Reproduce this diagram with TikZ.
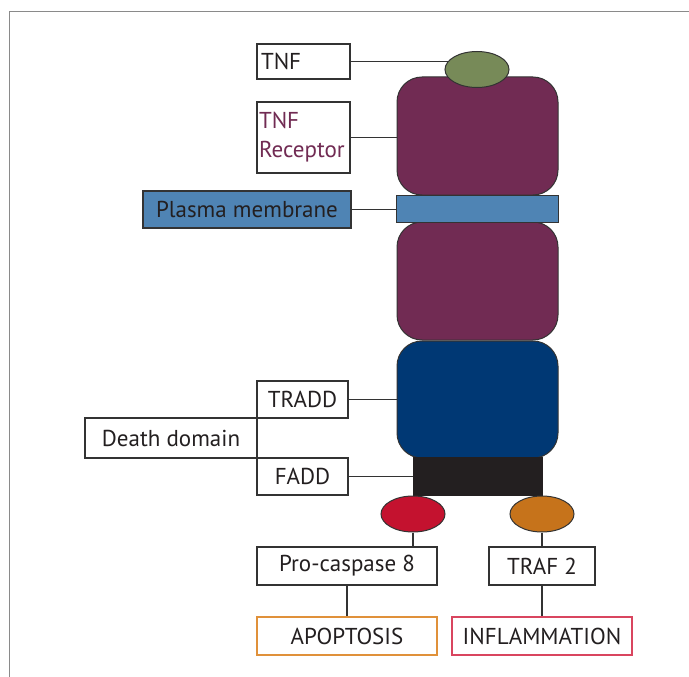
\documentclass[tikz,border=0pt]{standalone}
\usepackage{fontspec}
\setmainfont{PT Sans}
\usetikzlibrary{shapes.geometric,backgrounds}
\definecolor{txt}{HTML}{231F20}
\definecolor{edge}{HTML}{333333}
\definecolor{frame}{HTML}{8A8A8A}
\definecolor{tnfgreen}{HTML}{778A58}
\definecolor{recpurple}{HTML}{712B53}
\definecolor{memblue}{HTML}{4F84B4}
\definecolor{dkblue}{HTML}{003874}
\definecolor{faddblack}{HTML}{231F20}
\definecolor{caspred}{HTML}{C4122F}
\definecolor{traforange}{HTML}{C6731B}
\definecolor{apoporange}{HTML}{E0913A}
\definecolor{inflred}{HTML}{D9455F}
\tikzset{
  lbl/.style={draw=edge, line width=1.1pt, fill=white, inner sep=0pt, font=\fontsize{23}{27}\selectfont, text=txt},
  part/.style={draw=edge, line width=1pt, inner sep=0pt},
  blob/.style={ellipse, draw=edge, line width=1pt, inner sep=0pt, minimum width=64pt, minimum height=36pt},
  link/.style={draw=edge, line width=1.1pt},
}
\begin{document}
\begin{tikzpicture}[x=1pt,y=-1pt]
\useasboundingbox (0,0) rectangle (689,677);
% frame
\draw[frame, line width=1.6pt] (9.5,677) -- (9.5,11.5) -- (689,11.5);
% receptor parts
\node[part, fill=recpurple, rounded corners=25pt, minimum width=161pt, minimum height=118pt] (recup) at (477.5,136) {};
\node[part, fill=recpurple, rounded corners=25pt, minimum width=161pt, minimum height=118pt] (reclow) at (477.5,281) {};
\node[part, fill=memblue, minimum width=162pt, minimum height=27pt] (band) at (477,208.5) {};
\node[part, fill=dkblue, rounded corners=25pt, minimum width=161pt, minimum height=117pt] (tradddom) at (477.5,399.5) {};
\node[draw=faddblack, fill=faddblack, inner sep=0pt, minimum width=129pt, minimum height=38pt] (fadddom) at (477.5,476.5) {};
\node[blob, fill=tnfgreen] (tnf) at (477,69.5) {};
\node[blob, fill=caspred] (casp) at (413,514) {};
\node[blob, fill=traforange] (traf) at (542,514) {};
% labels
\node[lbl, minimum width=93pt, minimum height=35pt, text width=85pt, align=left] (tnfbox) at (303.5,61.5) {TNF};
\node[lbl, minimum width=93pt, minimum height=71pt, text width=89pt, align=left, text=recpurple, font=\fontsize{23}{29}\selectfont] (recbox) at (303.5,137.5) {TNF\\Receptor};
\node[lbl, fill=memblue, minimum width=208pt, minimum height=37pt] (pmbox) at (247,209.5) {Plasma membrane};
\node[lbl, minimum width=91pt, minimum height=37pt] (tradd) at (302.5,399.5) {TRADD};
\node[lbl, minimum width=172pt, minimum height=40pt] (death) at (171,438) {Death domain};
\node[lbl, minimum width=91pt, minimum height=37pt] (fadd) at (302.5,476.5) {FADD};
\node[lbl, minimum width=180pt, minimum height=38pt] (pcbox) at (347,566) {Pro-caspase 8};
\node[lbl, minimum width=106pt, minimum height=38pt] (trafbox) at (542,566) {TRAF 2};
\node[lbl, draw=apoporange, minimum width=180pt, minimum height=38pt] (apop) at (347,636) {APOPTOSIS};
\node[lbl, draw=inflred, minimum width=180pt, minimum height=38pt] (infl) at (542,636) {INFLAMMATION};
% connectors
\begin{scope}[on background layer]
\draw[link] (tnfbox.east) -- (tnfbox.east -| tnf.center);
\end{scope}
\draw[link] (recbox.east) -- (recbox.east -| recup.west);
\draw[link] (pmbox.east) -- (pmbox.east -| band.west);
\draw[link] (tradd.east) -- (tradd.east -| tradddom.west);
\draw[link] (fadd.east) -- (fadd.east -| fadddom.west);
\draw[link] (casp.south) -- (casp.south |- pcbox.north);
\draw[link] (traf.south) -- (trafbox.north);
\draw[link] (pcbox.south) -- (apop.north);
\draw[link] (trafbox.south) -- (infl.north);
\end{tikzpicture}
\end{document}
